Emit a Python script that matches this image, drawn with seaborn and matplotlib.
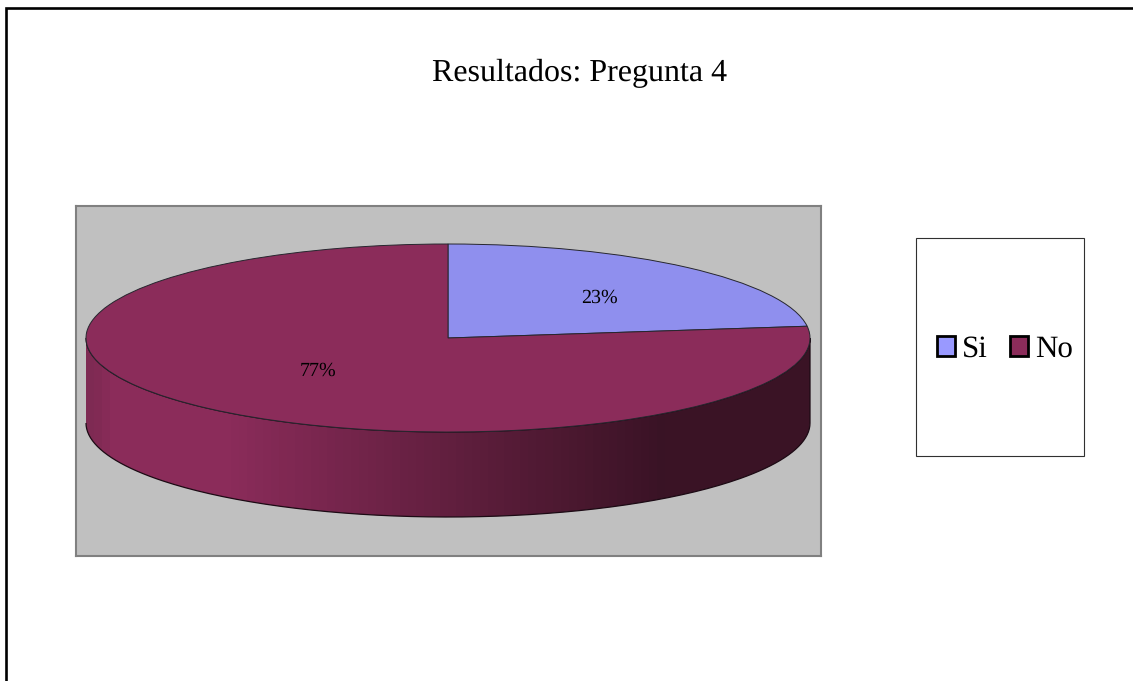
import numpy as np
import seaborn as sns
import matplotlib.pyplot as plt
from matplotlib.lines import Line2D
from matplotlib.patches import Patch, PathPatch, Rectangle
from matplotlib.path import Path
from matplotlib.colors import LinearSegmentedColormap

# data
categories = ['Si', 'No']
valores = [23, 77]
titulo = 'Resultados: Pregunta 4'

W, H = 1133, 681
col_si = '#8F8FEE'
col_no = '#8B2C5A'
col_leg_si = '#9999FF'

sns.set_theme(style='white')
plt.rcParams['font.family'] = ['Liberation Serif', 'DejaVu Serif']
plt.rcParams['text.hinting'] = 'no_hinting'
plt.rcParams['text.hinting_factor'] = 1


def px_box(x0, y0, x1, y1):
    # caja en pixeles de la imagen -> fraccion de figura
    return [x0 / W, 1 - y1 / H, (x1 - x0) / W, (y1 - y0) / H]


fig = plt.figure(figsize=(W / 100, H / 100), dpi=100, facecolor='white')

# marco exterior, solo izquierda y arriba
fig.add_artist(Line2D([6 / W, 6 / W, 1], [0, 1 - 7.5 / H, 1 - 7.5 / H],
                      color='black', lw=1.9, solid_joinstyle='miter'))

ax = fig.add_axes(px_box(76, 206, 821, 556))

wedges, _, pcts = ax.pie(valores, colors=[col_si, col_no], startangle=90, counterclock=False,
                         autopct='%.0f%%', pctdistance=0.6,
                         wedgeprops=dict(edgecolor='#26262e', linewidth=0.7, zorder=3),
                         textprops=dict(fontsize=14.5, color='black', zorder=4))
pcts[0].set_position((0.417, 0.43))
pcts[1].set_position((-0.36, -0.345))

# el pastel queda aplastado: radio 1 = 362 px en x, 94 px en y
ax.set_aspect('auto')
ax.set_xlim((76 - 448) / 362, (821 - 448) / 362)
ax.set_ylim((338 - 556) / 94, (338 - 206) / 94)
xlim, ylim = ax.get_xlim(), ax.get_ylim()

# lateral 3D con degradado
prof = 85 / 94
t = np.linspace(np.pi, 2 * np.pi, 200)
xs = np.r_[np.cos(t), np.cos(t[::-1])]
ys = np.r_[np.sin(t) - prof, np.sin(t[::-1])]
lado = Path(np.c_[xs, ys], closed=False)

cmap = LinearSegmentedColormap.from_list(
    'lado', [(0, '#7E2A53'), (0.03, col_no), (0.19, col_no), (0.8, '#3A1325'), (1, '#3A1325')])
bandas = sns.color_palette([cmap(i) for i in np.linspace(0, 1, 90)], as_cmap=False)
grad = np.array(bandas)[np.newaxis, :, :]
im = ax.imshow(grad, extent=(-1, 1, -1 - prof, 0), aspect='auto', zorder=1, interpolation='nearest')
borde = PathPatch(lado, facecolor='none', edgecolor='#1c0a14', linewidth=0.9, zorder=2,
                  transform=ax.transData)
ax.add_patch(borde)
im.set_clip_path(borde)
ax.set_xlim(xlim)
ax.set_ylim(ylim)

# fondo gris del area de trazado
ax.set_frame_on(True)
ax.set_facecolor('#C0C0C0')
for s in ax.spines.values():
    s.set_visible(True)
    s.set_color('#808080')
    s.set_linewidth(1.5)

# leyenda
fig.add_artist(Rectangle((915.7 / W, 1 - 456.3 / H), 168 / W, 218 / H, transform=fig.transFigure,
                         facecolor='white', edgecolor='#303030', linewidth=0.8))
handles = [Patch(facecolor=c, edgecolor='black', linewidth=2) for c in [col_leg_si, col_no]]
fig.legend(handles, categories, ncol=2, frameon=False, fontsize=22.5, labelcolor='black',
           loc='center', bbox_to_anchor=(1005 / W, 1 - 349.5 / H),
           handlelength=0.58, handleheight=0.58, handletextpad=0.22, columnspacing=0.69,
           borderpad=0, borderaxespad=0)

fig.text(579.5 / W, 1 - 73 / H, titulo, ha='center', va='center', fontsize=22.75, color='black')

fig.savefig('out.png', dpi=100)
